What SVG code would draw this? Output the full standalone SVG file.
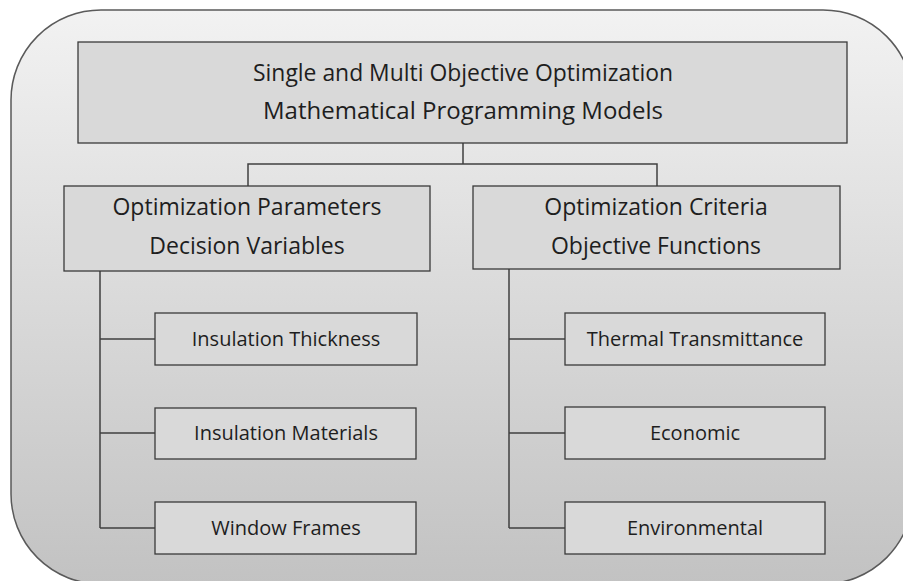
<svg xmlns="http://www.w3.org/2000/svg" width="903" height="581" viewBox="0 0 903 581">
<defs>
<linearGradient id="bg" x1="0" y1="0" x2="0" y2="1">
<stop offset="0" stop-color="#f2f2f2"/>
<stop offset="1" stop-color="#c2c2c2"/>
</linearGradient>
<style>
.box{fill:#d9d9d9;stroke:#3a3a3a;stroke-width:1.3}
.ln{fill:none;stroke:#404040;stroke-width:1.5}
text{font-family:"Open Sans","Liberation Sans",sans-serif;fill:#1e1e1e;text-anchor:middle}
.t1{font-size:24px}
.t2{font-size:23px}
.t3{font-size:20px}
</style>
</defs>
<rect width="903" height="581" fill="#ffffff"/>
<rect x="11" y="10" width="902" height="574" rx="90" ry="90" fill="url(#bg)" stroke="#5a5a5a" stroke-width="1.5"/>
<g id="connectors">
<path class="ln" d="M463 143 V164 M248 186 V164 H657 V186"/>
<path class="ln" d="M100 271 V528 M100 339 H155 M100 433 H155 M100 528 H155"/>
<path class="ln" d="M509 269 V528 M509 339 H565 M509 433 H565 M509 528 H565"/>
</g>
<g id="root">
<rect class="box" x="78" y="42" width="769" height="101"/>
<text class="t1" x="463" y="81" textLength="420" lengthAdjust="spacingAndGlyphs">Single and Multi Objective Optimization</text>
<text class="t1" x="463" y="119">Mathematical Programming Models</text>
</g>
<g id="params">
<rect class="box" x="64" y="186" width="366" height="85"/>
<text class="t2" x="247" y="215">Optimization Parameters</text>
<text class="t2" x="247" y="254">Decision Variables</text>
</g>
<g id="criteria">
<rect class="box" x="473" y="186" width="367" height="83"/>
<text class="t2" x="656" y="215">Optimization Criteria</text>
<text class="t2" x="656" y="254">Objective Functions</text>
</g>
<g id="thickness">
<rect class="box" x="155" y="313" width="262" height="52"/>
<text class="t3" x="286" y="346">Insulation Thickness</text>
</g>
<g id="materials">
<rect class="box" x="155" y="408" width="261" height="51"/>
<text class="t3" x="286" y="440">Insulation Materials</text>
</g>
<g id="frames">
<rect class="box" x="155" y="502" width="261" height="52"/>
<text class="t3" x="286" y="535">Window Frames</text>
</g>
<g id="thermal">
<rect class="box" x="565" y="313" width="260" height="52"/>
<text class="t3" x="695" y="346">Thermal Transmittance</text>
</g>
<g id="economic">
<rect class="box" x="565" y="407" width="260" height="52"/>
<text class="t3" x="695" y="440">Economic</text>
</g>
<g id="environmental">
<rect class="box" x="565" y="502" width="260" height="52"/>
<text class="t3" x="695" y="535">Environmental</text>
</g>
</svg>
